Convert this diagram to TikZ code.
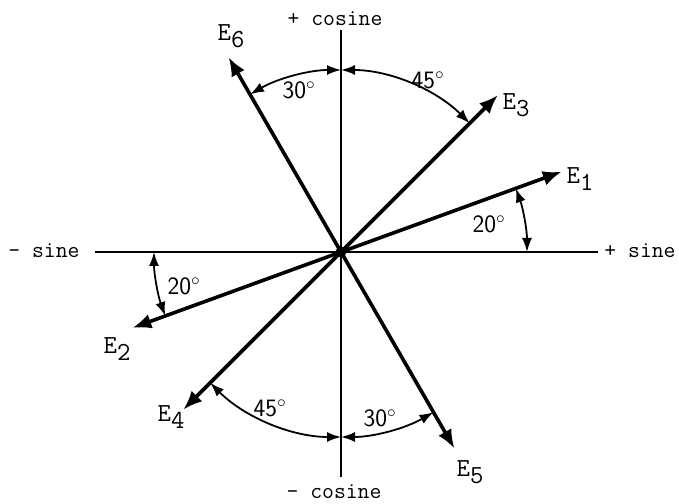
\documentclass[tikz,border=0pt]{standalone}
\usetikzlibrary{arrows.meta, calc}

\begin{document}
\begin{tikzpicture}[x=1pt, y=1pt,
    axis/.style={line width=1.8pt},
    vec/.style={line width=3.6pt, -{Latex[length=19pt, width=15pt]}},
    ang/.style={line width=1.8pt, {Latex[length=14pt, width=10pt]}-{Latex[length=14pt, width=10pt]}},
    axlabel/.style={font=\fontsize{23}{26}\selectfont\ttfamily, inner sep=0pt, anchor=base},
    elabel/.style={font=\fontsize{26}{28}\selectfont\ttfamily, inner sep=0pt},
    deg/.style={font=\fontsize{25}{28}\selectfont\sffamily, inner sep=0pt},
]
    \useasboundingbox (0,0) rectangle (679,503);
    \node[circle, fill, inner sep=0pt, minimum size=11pt] (O) at (341,251) {};

    % axes
    \coordinate (top) at (341,473);
    \coordinate (bottom) at (341,26);
    \coordinate (left) at (95,251);
    \coordinate (right) at (598,251);
    \draw[axis] (left) -- (right);
    \draw[axis] (bottom) -- (top);
    \node[axlabel] (pcos) at (335,477) {+ cosine};
    \node[axlabel] (mcos) at (334,5) {- cosine};
    \node[axlabel] (msin) at (44,245) {- sine};
    \node[axlabel] (psin) at (640,245) {+ sine};

    % vectors
    \coordinate (E1) at ($(O)+(20:235)$);
    \coordinate (E2) at ($(O)+(200:222)$);
    \coordinate (E3) at ($(O)+(45:222)$);
    \coordinate (E4) at ($(O)+(225:223)$);
    \coordinate (E5) at ($(O)+(300:227)$);
    \coordinate (E6) at ($(O)+(120:225)$);
    \foreach \e in {E1,E2,E3,E4,E5,E6}
        \draw[vec] (O.center) -- (\e);

    \node[elabel] (l1) at (580,324) {E\raisebox{-7pt}{1}};
    \node[elabel] (l2) at (117,154) {E\raisebox{-7pt}{2}};
    \node[elabel] (l3) at (516,398) {E\raisebox{-7pt}{3}};
    \node[elabel] (l4) at (171,86) {E\raisebox{-7pt}{4}};
    \node[elabel] (l5) at (470,31) {E\raisebox{-7pt}{5}};
    \node[elabel] (l6) at (231,467) {E\raisebox{-7pt}{6}};

    % angles
    \draw[ang] ($(O)+(0:186)$) arc[start angle=0, end angle=20, radius=186];
    \draw[ang] ($(O)+(180:187)$) arc[start angle=180, end angle=200, radius=187];
    \draw[ang] ($(O)+(90:182)$) arc[start angle=90, end angle=45, radius=182];
    \draw[ang] ($(O)+(90:182)$) arc[start angle=90, end angle=120, radius=182];
    \draw[ang] ($(O)+(270:185)$) arc[start angle=270, end angle=225, radius=185];
    \draw[ang] ($(O)+(270:185)$) arc[start angle=270, end angle=300, radius=185];

    \node[deg] (a1) at (489,279) {20$^\circ$};
    \node[deg] (a2) at (184,217) {20$^\circ$};
    \node[deg] (a3) at (428,423) {45$^\circ$};
    \node[deg] (a6) at (299,413) {30$^\circ$};
    \node[deg] (a4) at (270,95) {45$^\circ$};
    \node[deg] (a5) at (380,85) {30$^\circ$};
\end{tikzpicture}
\end{document}
